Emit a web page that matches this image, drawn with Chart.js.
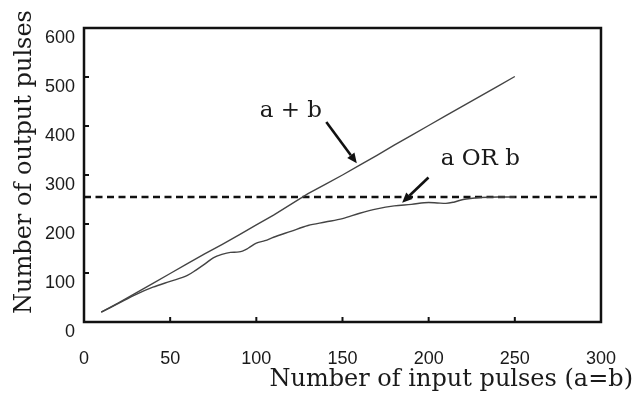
<!DOCTYPE html>
<html>
<head>
<meta charset="utf-8">
<script src="https://cdn.jsdelivr.net/npm/chart.js@4.4.1/dist/chart.umd.min.js"></script>
<style>
  html, body { margin: 0; padding: 0; background: #fff; }
  #wrap { width: 642px; height: 398px; }
</style>
</head>
<body>
<div id="wrap"><canvas id="chart"></canvas></div>
<script>
// values
var sumX = [10, 20, 30, 40, 50, 60, 70, 80, 90, 100, 110, 120, 130, 140, 150, 160, 170, 180, 190, 200, 210, 220, 230, 240, 250];
var sumY = [20, 39, 59, 79, 99, 119, 139, 158, 178, 198, 218, 240, 262, 281, 300, 320, 340, 361, 381, 401, 421, 441, 461, 481, 501];
var orX = [10, 20, 30, 40, 50, 60, 65, 70, 75, 80, 85, 90, 95, 100, 105, 110, 120, 130, 140, 150, 160, 170, 180, 190, 200, 205, 210, 215, 220, 230, 240, 250];
var orY = [20, 38, 56, 71, 83, 95, 106, 118, 131, 138, 142, 143, 150, 161, 166, 173, 185, 197, 204, 211, 222, 231, 237, 240, 244, 243, 242, 245, 250, 254, 255, 255];
var limitY = 255;
var xTicks = [0, 50, 100, 150, 200, 250, 300];
var yTicks = [0, 100, 200, 300, 400, 500, 600];
var xTitle = 'Number of input pulses (a=b)';
var yTitle = 'Number of output pulses';
// labels with arrows: [text, label x, label y, tail x, tail y, tip x, tip y] in data units
var notes = [
  ['a + b', 120, 430, 140.6, 408, 158.3, 324],
  ['a OR b', 230, 332, 199.9, 295, 184.6, 243.5]
];

function pts(xs, ys) {
  return xs.map(function (x, i) { return { x: x, y: ys[i] }; });
}

var serif = '"DejaVu Serif", serif';
var sans = '"Liberation Sans", Arial, sans-serif';

var framePlugin = {
  id: 'frame',
  afterDraw: function (chart) {
    var c = chart.ctx, a = chart.chartArea;
    var sx = chart.scales.x, sy = chart.scales.y;
    c.save();
    c.strokeStyle = '#111';
    c.lineWidth = 2.5;
    c.strokeRect(a.left, a.top, a.right - a.left, a.bottom - a.top);
    c.lineWidth = 2;
    xTicks.slice(1, -1).forEach(function (v) {
      var px = sx.getPixelForValue(v);
      c.beginPath(); c.moveTo(px, a.bottom); c.lineTo(px, a.bottom - 5); c.stroke();
    });
    yTicks.slice(1, -1).forEach(function (v) {
      var py = sy.getPixelForValue(v);
      c.beginPath(); c.moveTo(a.left, py); c.lineTo(a.left + 5, py); c.stroke();
    });

    // axis titles
    c.fillStyle = '#1a1a1a';
    c.font = '24px ' + serif;
    c.textBaseline = 'middle';
    c.textAlign = 'right';
    c.fillText(xTitle, 633, 380);
    c.save();
    c.translate(25, 162);
    c.rotate(-Math.PI / 2);
    c.textAlign = 'center';
    c.fillText(yTitle, 0, 0);
    c.restore();

    // annotations with arrows
    c.font = '23px ' + serif;
    notes.forEach(function (n) {
      c.textAlign = 'center';
      c.fillText(n[0], sx.getPixelForValue(n[1]), sy.getPixelForValue(n[2]));
      var x0 = sx.getPixelForValue(n[3]), y0 = sy.getPixelForValue(n[4]);
      var x1 = sx.getPixelForValue(n[5]), y1 = sy.getPixelForValue(n[6]);
      var ang = Math.atan2(y1 - y0, x1 - x0);
      var hl = 10, hw = 4.5;
      var bx = x1 - hl * Math.cos(ang), by = y1 - hl * Math.sin(ang);
      c.strokeStyle = '#111';
      c.lineWidth = 2.6;
      c.beginPath(); c.moveTo(x0, y0); c.lineTo(bx, by); c.stroke();
      c.fillStyle = '#111';
      c.beginPath();
      c.moveTo(x1, y1);
      c.lineTo(bx + hw * Math.sin(ang), by - hw * Math.cos(ang));
      c.lineTo(bx - hw * Math.sin(ang), by + hw * Math.cos(ang));
      c.closePath();
      c.fill();
      c.fillStyle = '#1a1a1a';
    });
    c.restore();
  }
};

var ctx = document.getElementById('chart').getContext('2d');
var chart = new Chart(ctx, {
  type: 'scatter',
  data: {
    datasets: [
      {
        label: 'a + b',
        data: pts(sumX, sumY),
        showLine: true,
        borderColor: '#444',
        borderWidth: 1.4,
        pointRadius: 0,
        fill: false
      },
      {
        label: 'a OR b',
        data: pts(orX, orY),
        showLine: true,
        borderColor: '#444',
        borderWidth: 1.4,
        pointRadius: 0,
        cubicInterpolationMode: 'monotone',
        fill: false
      },
      {
        label: 'limit',
        data: pts([0, 300], [limitY, limitY]),
        showLine: true,
        borderColor: '#111',
        borderWidth: 2.4,
        borderDash: [7, 4.5],
        pointRadius: 0,
        fill: false
      }
    ]
  },
  options: {
    responsive: true,
    maintainAspectRatio: false,
    animation: false,
    events: [],
    layout: { padding: { top: 28, right: 31, left: 0, bottom: 0 } },
    plugins: { legend: { display: false }, tooltip: { enabled: false } },
    scales: {
      x: {
        type: 'linear',
        min: 0, max: 300,
        afterBuildTicks: function (s) { s.ticks = xTicks.map(function (v) { return { value: v }; }); },
        afterFit: function (s) { s.height = 76; },
        grid: { display: false, drawTicks: false },
        border: { display: false },
        ticks: { color: '#1a1a1a', padding: 26, font: { family: sans, size: 18 } }
      },
      y: {
        type: 'linear',
        min: 0, max: 600,
        afterBuildTicks: function (s) { s.ticks = yTicks.map(function (v) { return { value: v }; }); },
        afterFit: function (s) { s.width = 84; },
        grid: { display: false, drawTicks: false },
        border: { display: false },
        ticks: { color: '#1a1a1a', padding: 9, labelOffset: 10, font: { family: sans, size: 18 } }
      }
    }
  },
  plugins: [framePlugin]
});
</script>
</body>
</html>
